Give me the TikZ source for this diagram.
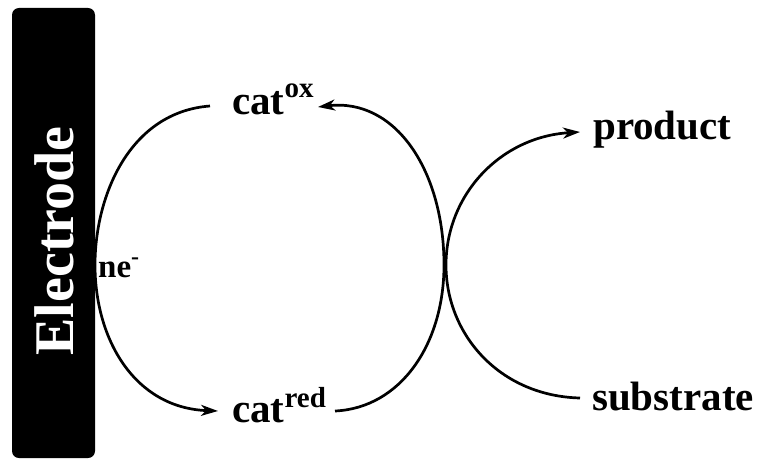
\documentclass[tikz,border=0pt]{standalone}
\usepackage{fontspec}
\setmainfont{Liberation Serif}
\usetikzlibrary{arrows.meta}
\begin{document}
\begin{tikzpicture}[x=1pt,y=-1pt,
  lbl/.style={font=\fontsize{41}{41}\selectfont\bfseries, inner sep=0pt, anchor=base west},
  arr/.style={line width=2.7pt, -{Stealth[length=17pt,width=11pt,inset=5pt]}}]
\useasboundingbox (0,0) rectangle (759,465);
\node[fill=black, rounded corners=7pt, minimum width=83pt, minimum height=450pt, inner sep=0pt] (electrode) at (53.5,233) {};
\node[rotate=90, anchor=base, text=white, font=\fontsize{56}{56}\selectfont\bfseries, inner sep=0pt] (etext) at (73,241) {Electrode};
\node[lbl] (catox) at (232,115) {cat\raisebox{17pt}{\fontsize{29}{29}\selectfont ox}};
\node[lbl] (catred) at (232,422) {cat\raisebox{15pt}{\fontsize{29}{29}\selectfont red}};
\node[lbl, font=\fontsize{33}{33}\selectfont\bfseries] (ne) at (98,277) {ne\raisebox{13pt}{\fontsize{24}{24}\selectfont -}};
\node[lbl] (product) at (593,140) {product};
\node[lbl] (substrate) at (592,410) {substrate};
\coordinate (a1) at (210,106);
\coordinate (a2) at (218,411);
\coordinate (b1) at (335,411);
\coordinate (b2) at (318,107);
\coordinate (c1) at (580,398);
\coordinate (c2) at (580,132);
\draw[arr] (a1) .. controls (130,112) and (95,195) .. (95,265) .. controls (95,340) and (135,408) .. (a2);
\draw[arr] (b1) .. controls (400,408) and (444,345) .. (444,265) .. controls (444,170) and (395,98) .. (b2);
\draw[arr] (c1) .. controls (500,396) and (446,335) .. (446,265) .. controls (446,195) and (500,137) .. (c2);
\end{tikzpicture}
\end{document}
